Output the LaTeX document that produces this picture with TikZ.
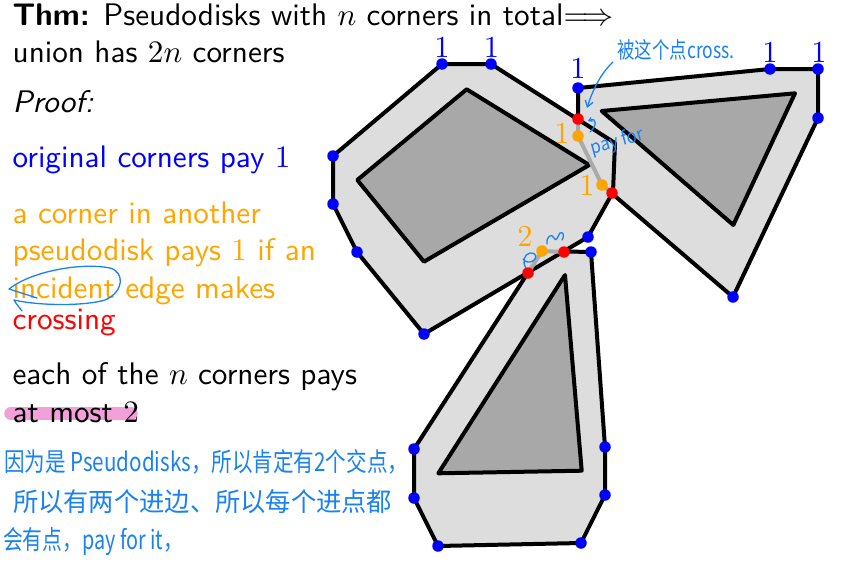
\documentclass[tikz,border=0pt]{standalone}
\usepackage{fontspec}
\usepackage{graphicx}
\newfontfamily\cjk{Noto Sans CJK SC}
\usetikzlibrary{arrows.meta}
\definecolor{lightfill}{RGB}{221,221,221}
\definecolor{darkfill}{RGB}{168,168,168}
\definecolor{hiddengray}{RGB}{170,170,170}
\definecolor{corange}{RGB}{255,165,0}
\definecolor{handblue}{RGB}{25,130,240}
\definecolor{hlpink}{RGB}{243,160,218}
\tikzset{
  txt/.style={anchor=base west, inner sep=0pt, scale=3.12, font=\fontsize{10}{12}\selectfont\sffamily},
  num/.style={anchor=base, inner sep=0pt, scale=3.05, font=\fontsize{10}{12}\selectfont},
  border/.style={line width=4pt, line join=round},
  disk/.style={border, draw=black, fill=lightfill},
  core/.style={border, draw=black, fill=darkfill},
  hidden/.style={line width=4pt, draw=hiddengray, line join=round},
  cdot/.style={circle, inner sep=0pt, minimum size=11.5pt},
  bdot/.style={cdot, fill=blue},
  rdot/.style={cdot, fill=red},
  odot/.style={cdot, fill=corange},
  hand/.style={draw=handblue, line width=1.3pt, line cap=round, line join=round},
  handtxt/.style={inner sep=0pt, text=handblue, font=\cjk},
}
\begin{document}
\begin{tikzpicture}[x=1pt, y=-1pt]
\useasboundingbox (0,0) rectangle (844,568);

% ---- left text ----
\draw[hlpink, line width=13.5pt, line cap=round] (11,413.5) -- (131,413.5);
\node[txt] (t1) at (12,25.5) {\textbf{Thm:} Pseudodisks with $n$ corners in total$\Longrightarrow$};
\node[txt] (t2) at (12,62.5) {union has $2n$ corners};
\node[txt] (t3) at (12,112.5) {\itshape Proof:};
\node[txt, text=blue] (t4) at (12,167.5) {original corners pay $1$};
\node[txt, text=corange] (t5) at (12,223) {a corner in another};
\node[txt, text=corange] (t6) at (12,260.5) {pseudodisk pays $1$ if an};
\node[txt, text=corange] (t7) at (12,298) {incident edge makes};
\node[txt, text=red] (t8) at (12,329.5) {crossing};
\node[txt] (t9) at (12,384) {each of the $n$ corners pays};
\node[txt] (t10) at (12,422) {at most $2$};

% ---- pseudodisk C (bottom) ----
\draw[disk] (591,252) -- (605,447) -- (605,495) -- (581,543) -- (438,546) -- (414,498) -- (414,449) -- (542,251) -- cycle;
\draw[core] (565,275) -- (581.7,470.7) -- (438.3,473.3) -- cycle;
% ---- pseudodisk B (right) ----
\draw[disk] (578,88) -- (770,69) -- (818,69) -- (818,118) -- (733,297) -- (602,185) -- (578,136) -- cycle;
\draw[core] (601.7,111) -- (795,93.3) -- (733.3,225) -- cycle;
% ---- pseudodisk A (left) ----
\draw[disk] (442,64) -- (491,64) -- (615,143) -- (613,192) -- (588,237) -- (424,334) -- (357,252) -- (333,204) -- (333,156) -- cycle;
\draw[core] (466.7,89.3) -- (589.3,165) -- (424,261.7) -- (357.3,180) -- cycle;

% hidden edges
\draw[hidden] (578,119) -- (578,136) -- (602,185) -- (612,193);
\draw[hidden] (564,252) -- (542,251) -- (528,273);

% ---- corners ----
\node[bdot] (a1) at (442,64) {};
\node[bdot] (a2) at (491,64) {};
\node[bdot] (a3) at (333,156) {};
\node[bdot] (a4) at (333,204) {};
\node[bdot] (a5) at (357,252) {};
\node[bdot] (a6) at (424,334) {};
\node[bdot] (a7) at (588,237) {};
\node[bdot] (b1) at (578,88) {};
\node[bdot] (b2) at (770,69) {};
\node[bdot] (b3) at (818,69) {};
\node[bdot] (b4) at (818,118) {};
\node[bdot] (b5) at (733,297) {};
\node[bdot] (c1) at (591,252) {};
\node[bdot] (c2) at (605,447) {};
\node[bdot] (c3) at (605,495) {};
\node[bdot] (c4) at (581,543) {};
\node[bdot] (c5) at (438,546) {};
\node[bdot] (c6) at (414,498) {};
\node[bdot] (c7) at (414,449) {};
\node[rdot] (r1) at (578,119) {};
\node[rdot] (r2) at (612,193) {};
\node[rdot] (r3) at (564,252) {};
\node[rdot] (r4) at (528,273) {};
\node[odot] (o1) at (578,136) {};
\node[odot] (o2) at (602,185) {};
\node[odot] (o3) at (542,251) {};

% ---- labels ----
\node[num, text=blue] (la1) at (442,57) {$1$};
\node[num, text=blue] (la2) at (491.5,57) {$1$};
\node[num, text=blue] (lb1) at (578,78) {$1$};
\node[num, text=blue] (lb2) at (770,62) {$1$};
\node[num, text=blue] (lb3) at (819,62) {$1$};
\node[num, text=corange] (lo1) at (562,143) {$1$};
\node[num, text=corange] (lo2) at (587,195) {$1$};
\node[num, text=corange] (lo3) at (525,246) {$2$};

% ---- handwriting ----
\node[handtxt] (hc) at (676,50) {\resizebox{117pt}{19pt}{被这个点cross.}};
\coordinate (ars) at (613,62);
\coordinate (are) at (587,108);
\draw[hand, -{Straight Barb[length=6pt,width=8pt]}] (ars) .. controls (600,74) and (592,92) .. (are);
\coordinate (hks) at (590,132);
\coordinate (hke) at (588,121);
\draw[hand, -{Straight Barb[length=3pt,width=4pt]}] (hks) .. controls (597,126) and (597,117) .. (hke);
\node[handtxt, rotate=15] (hp) at (617,142) {\resizebox{54pt}{15pt}{pay for}};
\coordinate (s1a) at (526,268);
\coordinate (s1b) at (523,259);
\draw[hand] (s1a) .. controls (522,262) and (524,254) .. (530,253) .. controls (536,252) and (538,258) .. (533,261) .. controls (529,263) and (525,262) .. (s1b);
\coordinate (s2a) at (547,244);
\coordinate (s2b) at (562,240);
\draw[hand] (s2a) .. controls (546,236) and (552,233) .. (554,238) .. controls (556,243) and (558,236) .. (560,233) .. controls (563,231) and (565,236) .. (s2b);
\coordinate (e1) at (37,298);
\coordinate (e2) at (22,311);
\draw[hand] (e1) -- (9,289) .. controls (30,272) and (80,262) .. (110,268) .. controls (125,272) and (124,292) .. (105,300) .. controls (85,306) and (40,306) .. (14,300) .. controls (16,304) and (20,308) .. (e2);
\node[handtxt, anchor=west] (h1) at (4,462) {\resizebox{404pt}{22pt}{因为是 Pseudodisks，所以肯定有2个交点，}};
\node[handtxt, anchor=west] (h2) at (13,502) {\resizebox{379pt}{22pt}{所以有两个进边、所以每个进点都}};
\node[handtxt, anchor=west] (h3) at (3,542) {\resizebox{180pt}{22pt}{会有点，pay for it，}};
\end{tikzpicture}
\end{document}
